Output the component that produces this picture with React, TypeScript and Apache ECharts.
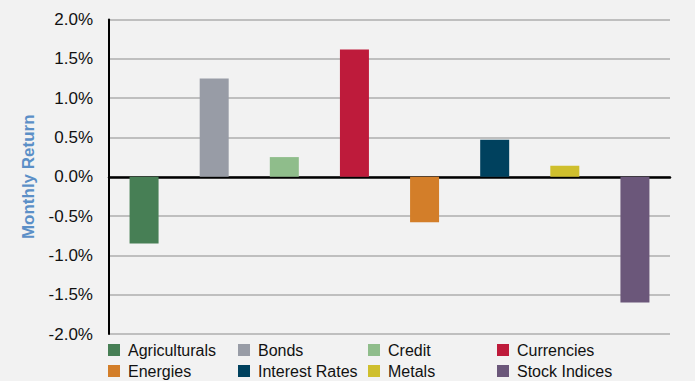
import React, { useEffect, useRef } from "react";
import * as echarts from "echarts";

const categories = ["Agriculturals", "Bonds", "Credit", "Currencies", "Energies", "Interest Rates", "Metals", "Stock Indices"];
const returns = [-0.85, 1.25, 0.25, 1.62, -0.58, 0.47, 0.14, -1.6];
const colors = ["#477f55", "#989ca6", "#8fbd8b", "#be1b3b", "#d37e29", "#00415e", "#cfbf2d", "#6b577a"];
const yTicks = { min: -2, max: 2, interval: 0.5 };

export default function App() {
  const ref = useRef<HTMLDivElement>(null);
  useEffect(() => {
    if (!ref.current) return;
    const chart = echarts.init(ref.current, null, { renderer: "svg" });
    const series = categories.map((name, i) => ({
      name,
      type: "bar",
      stack: "all",
      barWidth: 29,
      itemStyle: { color: colors[i] },
      data: categories.map((_, j) => (j === i ? returns[i] : "-")),
    }));
    const colX = [108, 238, 368, 497];
    const legends = colX.map((x, c) => ({
      orient: "vertical",
      left: x,
      top: 342,
      padding: 0,
      height: 39,
      itemWidth: 12,
      itemHeight: 12,
      itemGap: 5,
      icon: "rect",
      data: [categories[c], categories[c + 4]],
      textStyle: { fontFamily: "Liberation Sans, Arial", fontSize: 16, color: "#111", lineHeight: 16, padding: [0, 0, 0, 3] },
    }));
    chart.setOption({
      animation: false,
      backgroundColor: "#f2f2f2",
      grid: { left: 109, right: 25, top: 19.5, bottom: 47, containLabel: false },
      legend: legends,
      xAxis: {
        type: "category",
        data: categories,
        axisLine: { onZero: true, lineStyle: { color: "#000", width: 2.5 } },
        axisTick: { show: false },
        axisLabel: { show: false },
        splitLine: { show: false },
      },
      yAxis: {
        type: "value",
        min: yTicks.min,
        max: yTicks.max,
        interval: yTicks.interval,
        name: "Monthly Return",
        nameLocation: "middle",
        nameGap: 72,
        nameTextStyle: { fontFamily: "Liberation Sans, Arial", fontSize: 17, fontWeight: "bold", color: "#5b8fc7" },
        axisLine: { show: true, lineStyle: { color: "#000", width: 2 } },
        axisTick: { show: false },
        axisLabel: {
          fontFamily: "Liberation Sans, Arial",
          fontSize: 17,
          color: "#111",
          margin: 16,
          formatter: (v: number) => v.toFixed(1) + "%",
        },
        splitLine: { show: true, lineStyle: { color: "#bfbfbf", width: 2 } },
      },
      series,
    });
    return () => chart.dispose();
  }, []);
  return <div ref={ref} style={{ width: 695, height: 381, position: "absolute", left: 0, top: 0 }} />;
}
